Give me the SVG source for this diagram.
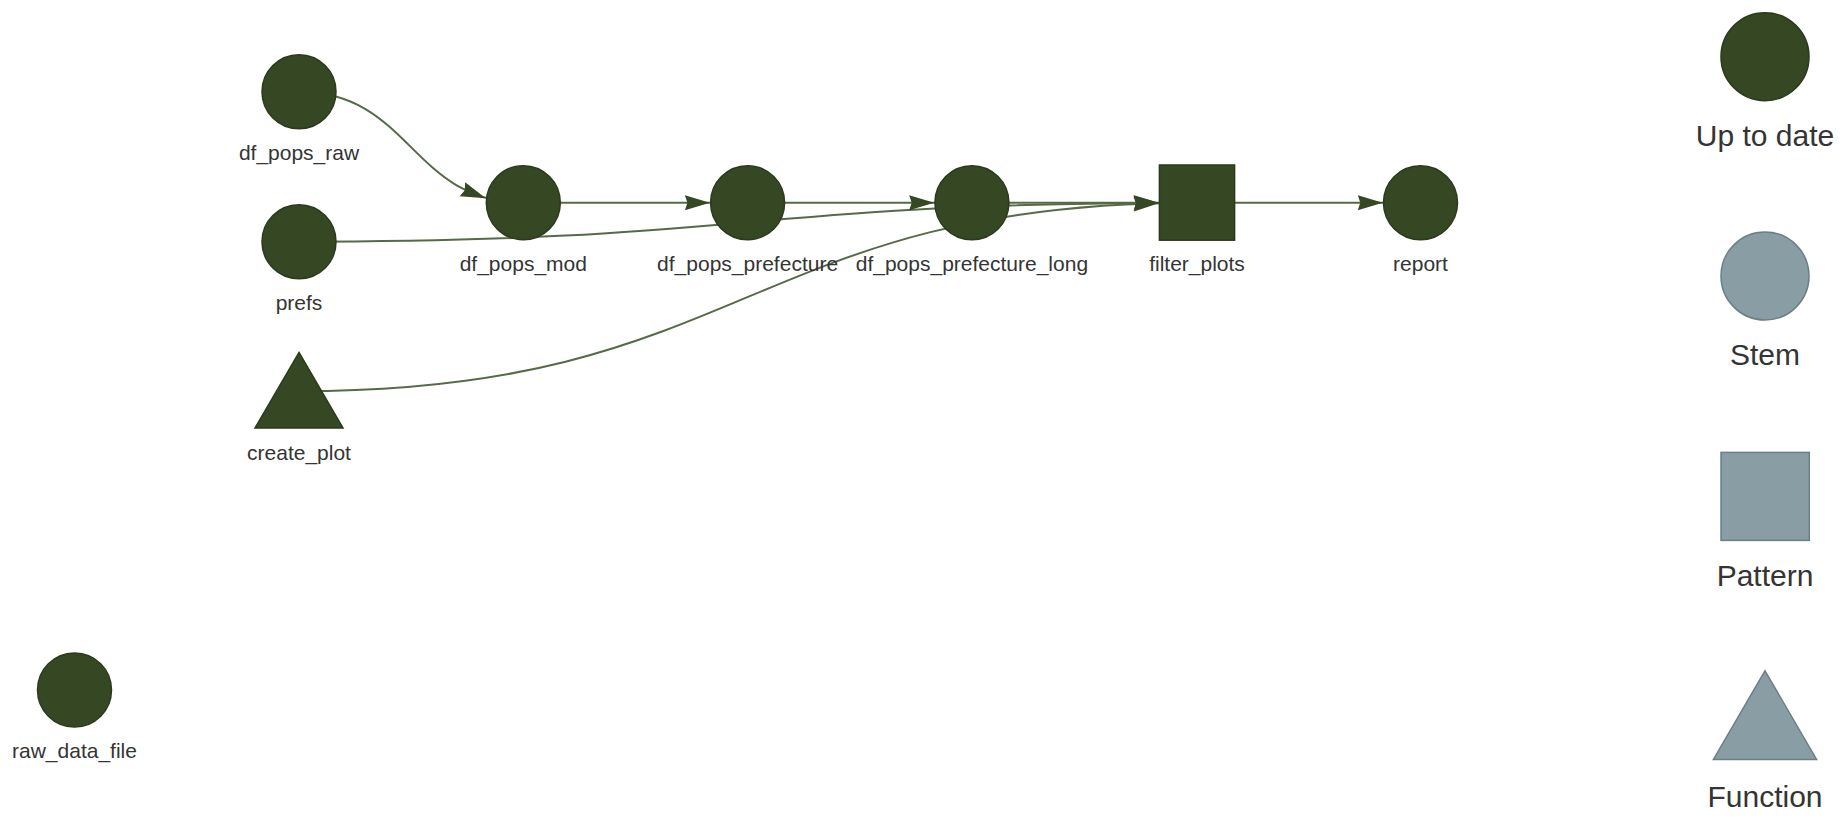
<svg xmlns="http://www.w3.org/2000/svg" xmlns:xlink="http://www.w3.org/1999/xlink" width="1840" height="838" viewBox="0 0 1840 838">
<style>
.edge{fill:none;stroke:#556A45;stroke-width:2}
.arrow{fill:#354823}
.done{fill:#354823;stroke:#2A3A1B;stroke-width:1.5}
.grey{fill:#899DA4;stroke:#6B7F86;stroke-width:1.5}
.lbl{font-family:"Liberation Sans",Arial,sans-serif;font-size:21px;fill:#343434;text-anchor:middle}
.leg{font-family:"Liberation Sans",Arial,sans-serif;font-size:30px;fill:#343434;text-anchor:middle}
</style>
<defs>
<path id="ah" class="arrow" d="M0,0 L-25,7.5 L-22.5,0 L-25,-7.5 Z"/>
</defs>
<rect width="1840" height="838" fill="#ffffff"/>
<g id="connectors">
<path class="edge" d="M299,91.7 C411,91.7 411,202.7 523.3,202.7"/>
<path class="edge" d="M523.3,202.7 H747.6"/>
<path class="edge" d="M747.6,202.7 H971.9"/>
<path class="edge" d="M971.9,202.7 H1197"/>
<path class="edge" d="M1197,202.7 H1420.5"/>
<path class="edge" d="M299,241.7 C748,241.7 748,202.7 1197,202.7"/>
<path class="edge" d="M299,391.2 C748,391.2 748,202.7 1197,202.7"/>
<use href="#ah" transform="translate(485.8,198.2) rotate(21)"/>
<use href="#ah" transform="translate(709.9,202.7)"/>
<use href="#ah" transform="translate(934.2,202.7)"/>
<use href="#ah" transform="translate(1158.7,202.7)"/>
<use href="#ah" transform="translate(1158.7,202.8) rotate(-0.4)"/>
<use href="#ah" transform="translate(1158.7,203.2) rotate(-1.9)"/>
<use href="#ah" transform="translate(1382.8,202.7)"/>
</g>
<g id="df_pops_raw"><circle class="done" cx="299" cy="91.7" r="37"/><text class="lbl" x="299" y="160">df_pops_raw</text></g>
<g id="prefs"><circle class="done" cx="299" cy="241.7" r="37"/><text class="lbl" x="299" y="310">prefs</text></g>
<g id="create_plot"><polygon class="done" points="299,352.4 343,428 255,428"/><text class="lbl" x="299" y="460">create_plot</text></g>
<g id="raw_data_file"><circle class="done" cx="74.5" cy="690" r="37"/><text class="lbl" x="74.5" y="758">raw_data_file</text></g>
<g id="df_pops_mod"><circle class="done" cx="523.3" cy="202.7" r="37"/><text class="lbl" x="523.3" y="270.7">df_pops_mod</text></g>
<g id="df_pops_prefecture"><circle class="done" cx="747.6" cy="202.7" r="37"/><text class="lbl" x="747.6" y="270.7">df_pops_prefecture</text></g>
<g id="df_pops_prefecture_long"><circle class="done" cx="971.9" cy="202.7" r="37"/><text class="lbl" x="971.9" y="270.7">df_pops_prefecture_long</text></g>
<g id="filter_plots"><rect class="done" x="1159.4" y="165" width="75.2" height="75.2"/><text class="lbl" x="1197" y="270.7">filter_plots</text></g>
<g id="report"><circle class="done" cx="1420.5" cy="202.7" r="37"/><text class="lbl" x="1420.5" y="270.7">report</text></g>
<g id="legend-uptodate"><circle class="done" cx="1765" cy="56.7" r="44"/><text class="leg" x="1765" y="145.7">Up to date</text></g>
<g id="legend-stem"><circle class="grey" cx="1765" cy="276" r="44"/><text class="leg" x="1765" y="365">Stem</text></g>
<g id="legend-pattern"><rect class="grey" x="1721" y="452.4" width="88.3" height="88"/><text class="leg" x="1765" y="585.7">Pattern</text></g>
<g id="legend-function"><polygon class="grey" points="1765,670.8 1816.6,759.4 1713.4,759.4"/><text class="leg" x="1765" y="806.7">Function</text></g>
</svg>
